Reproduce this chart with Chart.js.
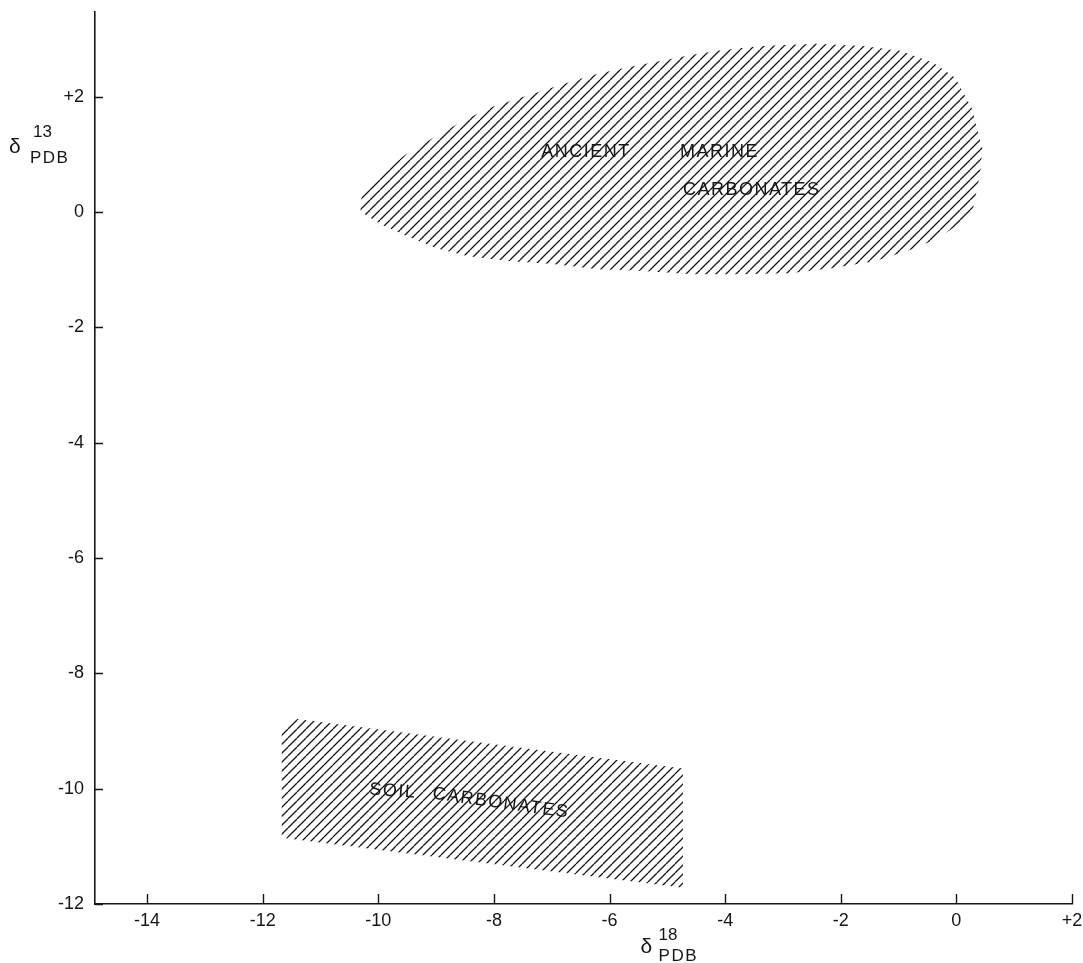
<!DOCTYPE html>
<html>
<head>
<title>d13C vs d18O carbonate fields</title>
<script src="https://cdn.jsdelivr.net/npm/chart.js@4.4.1/dist/chart.umd.min.js"></script>
<style>
body { margin:0; background:#fff; }
</style>
</head>
<body>
<canvas id="myChart" width="1083" height="963"></canvas>
<script>
// axis ticks
var xTicks = [-14, -12, -10, -8, -6, -4, -2, 0, 2];
var yTicks = [2, 0, -2, -4, -6, -8, -10, -12];

// ancient marine carbonates field outline (d18O, d13C)
var marineX = [-10.31, -10.28, -9.97, -9.57, -9.00, -8.48, -8.07, -7.46, -6.80, -6.20, -5.64, -5.12, -4.57, -4.05, -3.36, -2.44, -1.61, -0.97, -0.40, -0.02, 0.27, 0.45, 0.41, 0.29, 0.07, -0.31, -0.75, -1.40, -2.13, -2.88, -3.74, -4.57, -5.42, -6.21, -6.98, -7.77, -8.46, -8.98, -9.48, -9.92, -10.19, -10.31];
var marineY = [0.02, 0.33, 0.63, 0.97, 1.32, 1.61, 1.81, 2.01, 2.22, 2.40, 2.52, 2.62, 2.73, 2.81, 2.88, 2.92, 2.88, 2.80, 2.59, 2.33, 1.79, 1.11, 0.66, 0.07, -0.19, -0.45, -0.64, -0.85, -0.97, -1.06, -1.08, -1.08, -1.02, -0.99, -0.90, -0.85, -0.76, -0.63, -0.43, -0.23, -0.07, 0.02];

// soil carbonates field outline
var soilX = [-11.67, -11.50, -4.73, -4.73, -11.67, -11.67];
var soilY = [-9.00, -8.78, -9.65, -11.72, -10.85, -9.00];

// field names and where they sit (data units)
var labelText = ['ANCIENT', 'MARINE', 'CARBONATES', 'SOIL', 'CARBONATES'];
var labelX = [-7.18, -4.78, -4.73, -10.16, -9.07];
var labelY = [0.96, 0.96, 0.30, -10.10, -10.17];
var labelRot = [0, 0, 0, 4, 8];

var ink = '#161616';

function pts(xs, ys) {
    return xs.map(function (x, i) { return { x: x, y: ys[i] }; });
}

// diagonal hatching, w = horizontal gap between lines, h = rise over that gap
function hatch(ctx, w, h) {
    var c = document.createElement('canvas');
    c.width = w; c.height = h;
    var g = c.getContext('2d');
    g.strokeStyle = ink;
    g.lineWidth = 1.3;
    g.beginPath();
    for (var k = -1; k <= 1; k++) {
        g.moveTo(k * w, h);
        g.lineTo(k * w + w, 0);
    }
    g.stroke();
    return ctx.createPattern(c, 'repeat');
}

function fmt(v) {
    return v > 0 ? '+' + v : String(v);
}

// tick marks point into the plot
var inwardTicks = {
    id: 'inwardTicks',
    afterDraw: function (chart) {
        var c = chart.ctx, xs = chart.scales.x, ys = chart.scales.y;
        var a = chart.chartArea;
        c.save();
        c.strokeStyle = ink;
        c.lineWidth = 1.4;
        c.beginPath();
        xTicks.forEach(function (v) {
            var p = Math.round(xs.getPixelForValue(v)) + 0.5;
            c.moveTo(p, a.bottom);
            c.lineTo(p, a.bottom - 10);
        });
        yTicks.forEach(function (v) {
            var p = Math.round(ys.getPixelForValue(v)) + 0.5;
            c.moveTo(a.left, p);
            c.lineTo(a.left + 8, p);
        });
        c.stroke();
        c.restore();
    }
};

// field names and axis titles
var texts = {
    id: 'texts',
    afterDraw: function (chart) {
        var c = chart.ctx, xs = chart.scales.x, ys = chart.scales.y;
        var a = chart.chartArea;
        c.save();
        c.fillStyle = ink;
        c.textBaseline = 'alphabetic';
        c.textAlign = 'left';
        c.font = '18px "Liberation Sans", Arial, sans-serif';
        c.letterSpacing = '1.5px';
        labelText.forEach(function (t, i) {
            c.save();
            c.translate(xs.getPixelForValue(labelX[i]), ys.getPixelForValue(labelY[i]));
            c.rotate(labelRot[i] * Math.PI / 180);
            c.fillText(t, 0, 0);
            c.restore();
        });

        // y title: delta 13 PDB
        c.letterSpacing = '0px';
        c.font = '21px "Liberation Sans", Arial, sans-serif';
        c.fillText('\u03b4', a.left - 86, a.top + 141);
        c.font = '17px "Liberation Sans", Arial, sans-serif';
        c.fillText('13', a.left - 62, a.top + 125);
        c.letterSpacing = '1.5px';
        c.fillText('PDB', a.left - 65, a.top + 151);

        // x title: delta 18 PDB
        var xm = xs.getPixelForValue(-5.1);
        c.letterSpacing = '0px';
        c.font = '21px "Liberation Sans", Arial, sans-serif';
        c.fillText('\u03b4', xm - 21, a.bottom + 49);
        c.font = '17px "Liberation Sans", Arial, sans-serif';
        c.fillText('18', xm - 3, a.bottom + 36);
        c.letterSpacing = '1.5px';
        c.fillText('PDB', xm - 3, a.bottom + 57);
        c.restore();
    }
};

var ctx = document.getElementById('myChart').getContext('2d');

var chart = new Chart(ctx, {
    type: 'line',
    data: {
        datasets: [{
            label: 'Ancient marine carbonates',
            data: pts(marineX, marineY),
            fill: 'shape',
            backgroundColor: hatch(ctx, 10, 10),
            borderWidth: 0,
            pointRadius: 0,
            tension: 0
        }, {
            label: 'Soil carbonates',
            data: pts(soilX, soilY),
            fill: 'shape',
            backgroundColor: hatch(ctx, 9, 9),
            borderWidth: 0,
            pointRadius: 0,
            tension: 0
        }]
    },
    options: {
        responsive: false,
        animation: false,
        devicePixelRatio: 1,
        layout: { padding: { top: 12, right: 11, left: 0, bottom: 0 } },
        plugins: { legend: { display: false }, tooltip: { enabled: false } },
        scales: {
            x: {
                type: 'linear', min: -14.9, max: 2,
                grid: { display: false, drawTicks: false },
                border: { display: true, color: ink, width: 1.6 },
                ticks: {
                    padding: 6, color: ink, callback: fmt,
                    font: { family: '"Liberation Sans", Arial, sans-serif', size: 18 }
                },
                afterBuildTicks: function (s) { s.ticks = xTicks.map(function (v) { return { value: v }; }); },
                afterFit: function (s) { s.height = 59; s.paddingLeft = 0; s.paddingRight = 0; }
            },
            y: {
                type: 'linear', min: -12, max: 3.47,
                grid: { display: false, drawTicks: false },
                border: { display: true, color: ink, width: 1.6 },
                ticks: {
                    padding: 11, color: ink, callback: fmt,
                    font: { family: '"Liberation Sans", Arial, sans-serif', size: 18 }
                },
                afterBuildTicks: function (s) { s.ticks = yTicks.map(function (v) { return { value: v }; }); },
                afterFit: function (s) { s.width = 95; s.paddingTop = 0; s.paddingBottom = 0; }
            }
        }
    },
    plugins: [inwardTicks, texts]
});
</script>
</body>
</html>
